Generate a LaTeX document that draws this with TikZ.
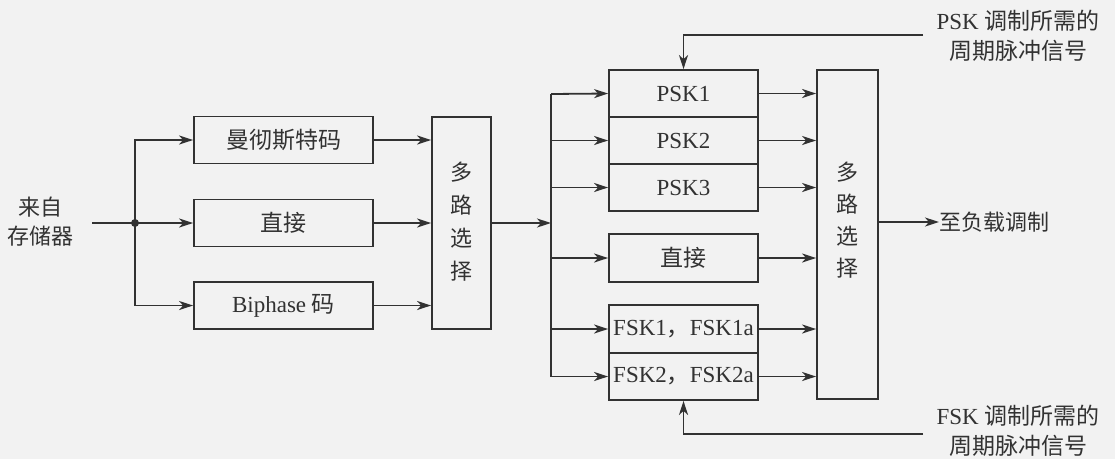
\documentclass[tikz,border=0pt]{standalone}
\usepackage{fontspec}
\setmainfont{Liberation Serif}
\newfontfamily\cjk{Noto Sans CJK SC}
\usetikzlibrary{arrows.meta}
\definecolor{ink}{RGB}{50,50,50}
\definecolor{paper}{RGB}{242,242,242}
\begin{document}
\begin{tikzpicture}[x=1pt,y=-1pt,
  every node/.style={font=\fontsize{23}{30}\selectfont, text=ink},
  box/.style={draw=ink, line width=1.8pt, rectangle, inner sep=0pt, minimum width=179pt, minimum height=47pt},
  sbox/.style={draw=ink, line width=1.8pt, rectangle, inner sep=0pt, minimum width=149pt, minimum height=47pt},
  muxbox/.style={draw=ink, line width=1.8pt, rectangle, inner sep=0pt},
  wire/.style={draw=ink, line width=1.8pt},
  arr/.style={wire, -{Stealth[length=14pt,width=9pt,inset=4pt]}},
  lbl/.style={align=center, inner sep=0pt}
]
\fill[paper] (0,0) rectangle (1115,459);
\useasboundingbox (0,0) rectangle (1115,459);

% left text
\node[lbl, font=\cjk\fontsize{22}{29}\selectfont] (src) at (40,222) {来自\\存储器};
\coordinate (in) at (92,223);
\coordinate (j) at (135,223);

% first column boxes
\node[box] (man) at (283.5,140) {\cjk 曼彻斯特码};
\node[box] (dir1) at (283.5,223) {\cjk 直接};
\node[box] (bip) at (283.5,305.5) {Biphase {\cjk 码}};

% mux 1
\node[muxbox, minimum width=59pt, minimum height=212pt] (mux1) at (461.5,223) {};
\node[lbl, font=\cjk\fontsize{22}{33}\selectfont] (mux1t) at (461.5,222) {多\\路\\选\\择};

% bus
\coordinate (bus) at (551,223);
\coordinate (bt) at (551,94);
\coordinate (bb) at (551,376.5);

% second column
\node[sbox] (psk1) at (683.5,93.5) {PSK1};
\node[sbox] (psk2) at (683.5,140.5) {PSK2};
\node[sbox] (psk3) at (683.5,187.5) {PSK3};
\node[sbox, minimum height=48pt] (dir2) at (683.5,258) {\cjk 直接};
\node[sbox, minimum height=48pt] (fsk1) at (683.5,329) {FSK1{\cjk ，}FSK1a};
\node[sbox] (fsk2) at (683.5,376.5) {FSK2{\cjk ，}FSK2a};

% mux 2
\node[muxbox, minimum width=61pt, minimum height=329pt] (mux2) at (847.5,234.5) {};
\node[lbl, font=\cjk\fontsize{22}{32}\selectfont] (mux2t) at (847.5,220) {多\\路\\选\\择};

% right texts
\coordinate (out) at (878,222);
\node[lbl, anchor=west, font=\cjk\fontsize{22}{29}\selectfont] (load) at (939,222) {至负载调制};
\node[lbl] (pskt) at (1018,36) {PSK {\cjk 调制所需的}\\{\cjk 周期脉冲信号}};
\node[lbl] (fskt) at (1018,431) {FSK {\cjk 调制所需的}\\{\cjk 周期脉冲信号}};
\coordinate (ps) at (923,35);
\coordinate (fs) at (923,434);

% connectors: input
\draw[wire] (in) -- (j);
\fill[ink] (j) circle (4pt);
\draw[arr] (j) |- (man.west);
\draw[arr] (j) -- (dir1.west);
\draw[arr] (j) |- (bip.west);
\draw[arr] (man.east) -- (man.east -| mux1.west);
\draw[arr] (dir1.east) -- (dir1.east -| mux1.west);
\draw[arr] (bip.east) -- (bip.east -| mux1.west);

% mux1 to bus
\draw[arr] (mux1.east |- bus) -- (bus);
\draw[wire] (bt) -- (bb);
\draw[arr] (bt) -- (psk1.west);
\draw[arr] (psk2.west -| bt) -- (psk2.west);
\draw[arr] (psk3.west -| bt) -- (psk3.west);
\draw[arr] (dir2.west -| bt) -- (dir2.west);
\draw[arr] (fsk1.west -| bt) -- (fsk1.west);
\draw[arr] (bb) -- (fsk2.west);

% to mux2
\draw[arr] (psk1.east) -- (psk1.east -| mux2.west);
\draw[arr] (psk2.east) -- (psk2.east -| mux2.west);
\draw[arr] (psk3.east) -- (psk3.east -| mux2.west);
\draw[arr] (dir2.east) -- (dir2.east -| mux2.west);
\draw[arr] (fsk1.east) -- (fsk1.east -| mux2.west);
\draw[arr] (fsk2.east) -- (fsk2.east -| mux2.west);

% output
\draw[arr] (out) -- (load.west);

% pulse signals
\draw[arr] (ps) -| (psk1.north);
\draw[arr] (fs) -| (fsk2.south);
\end{tikzpicture}
\end{document}
